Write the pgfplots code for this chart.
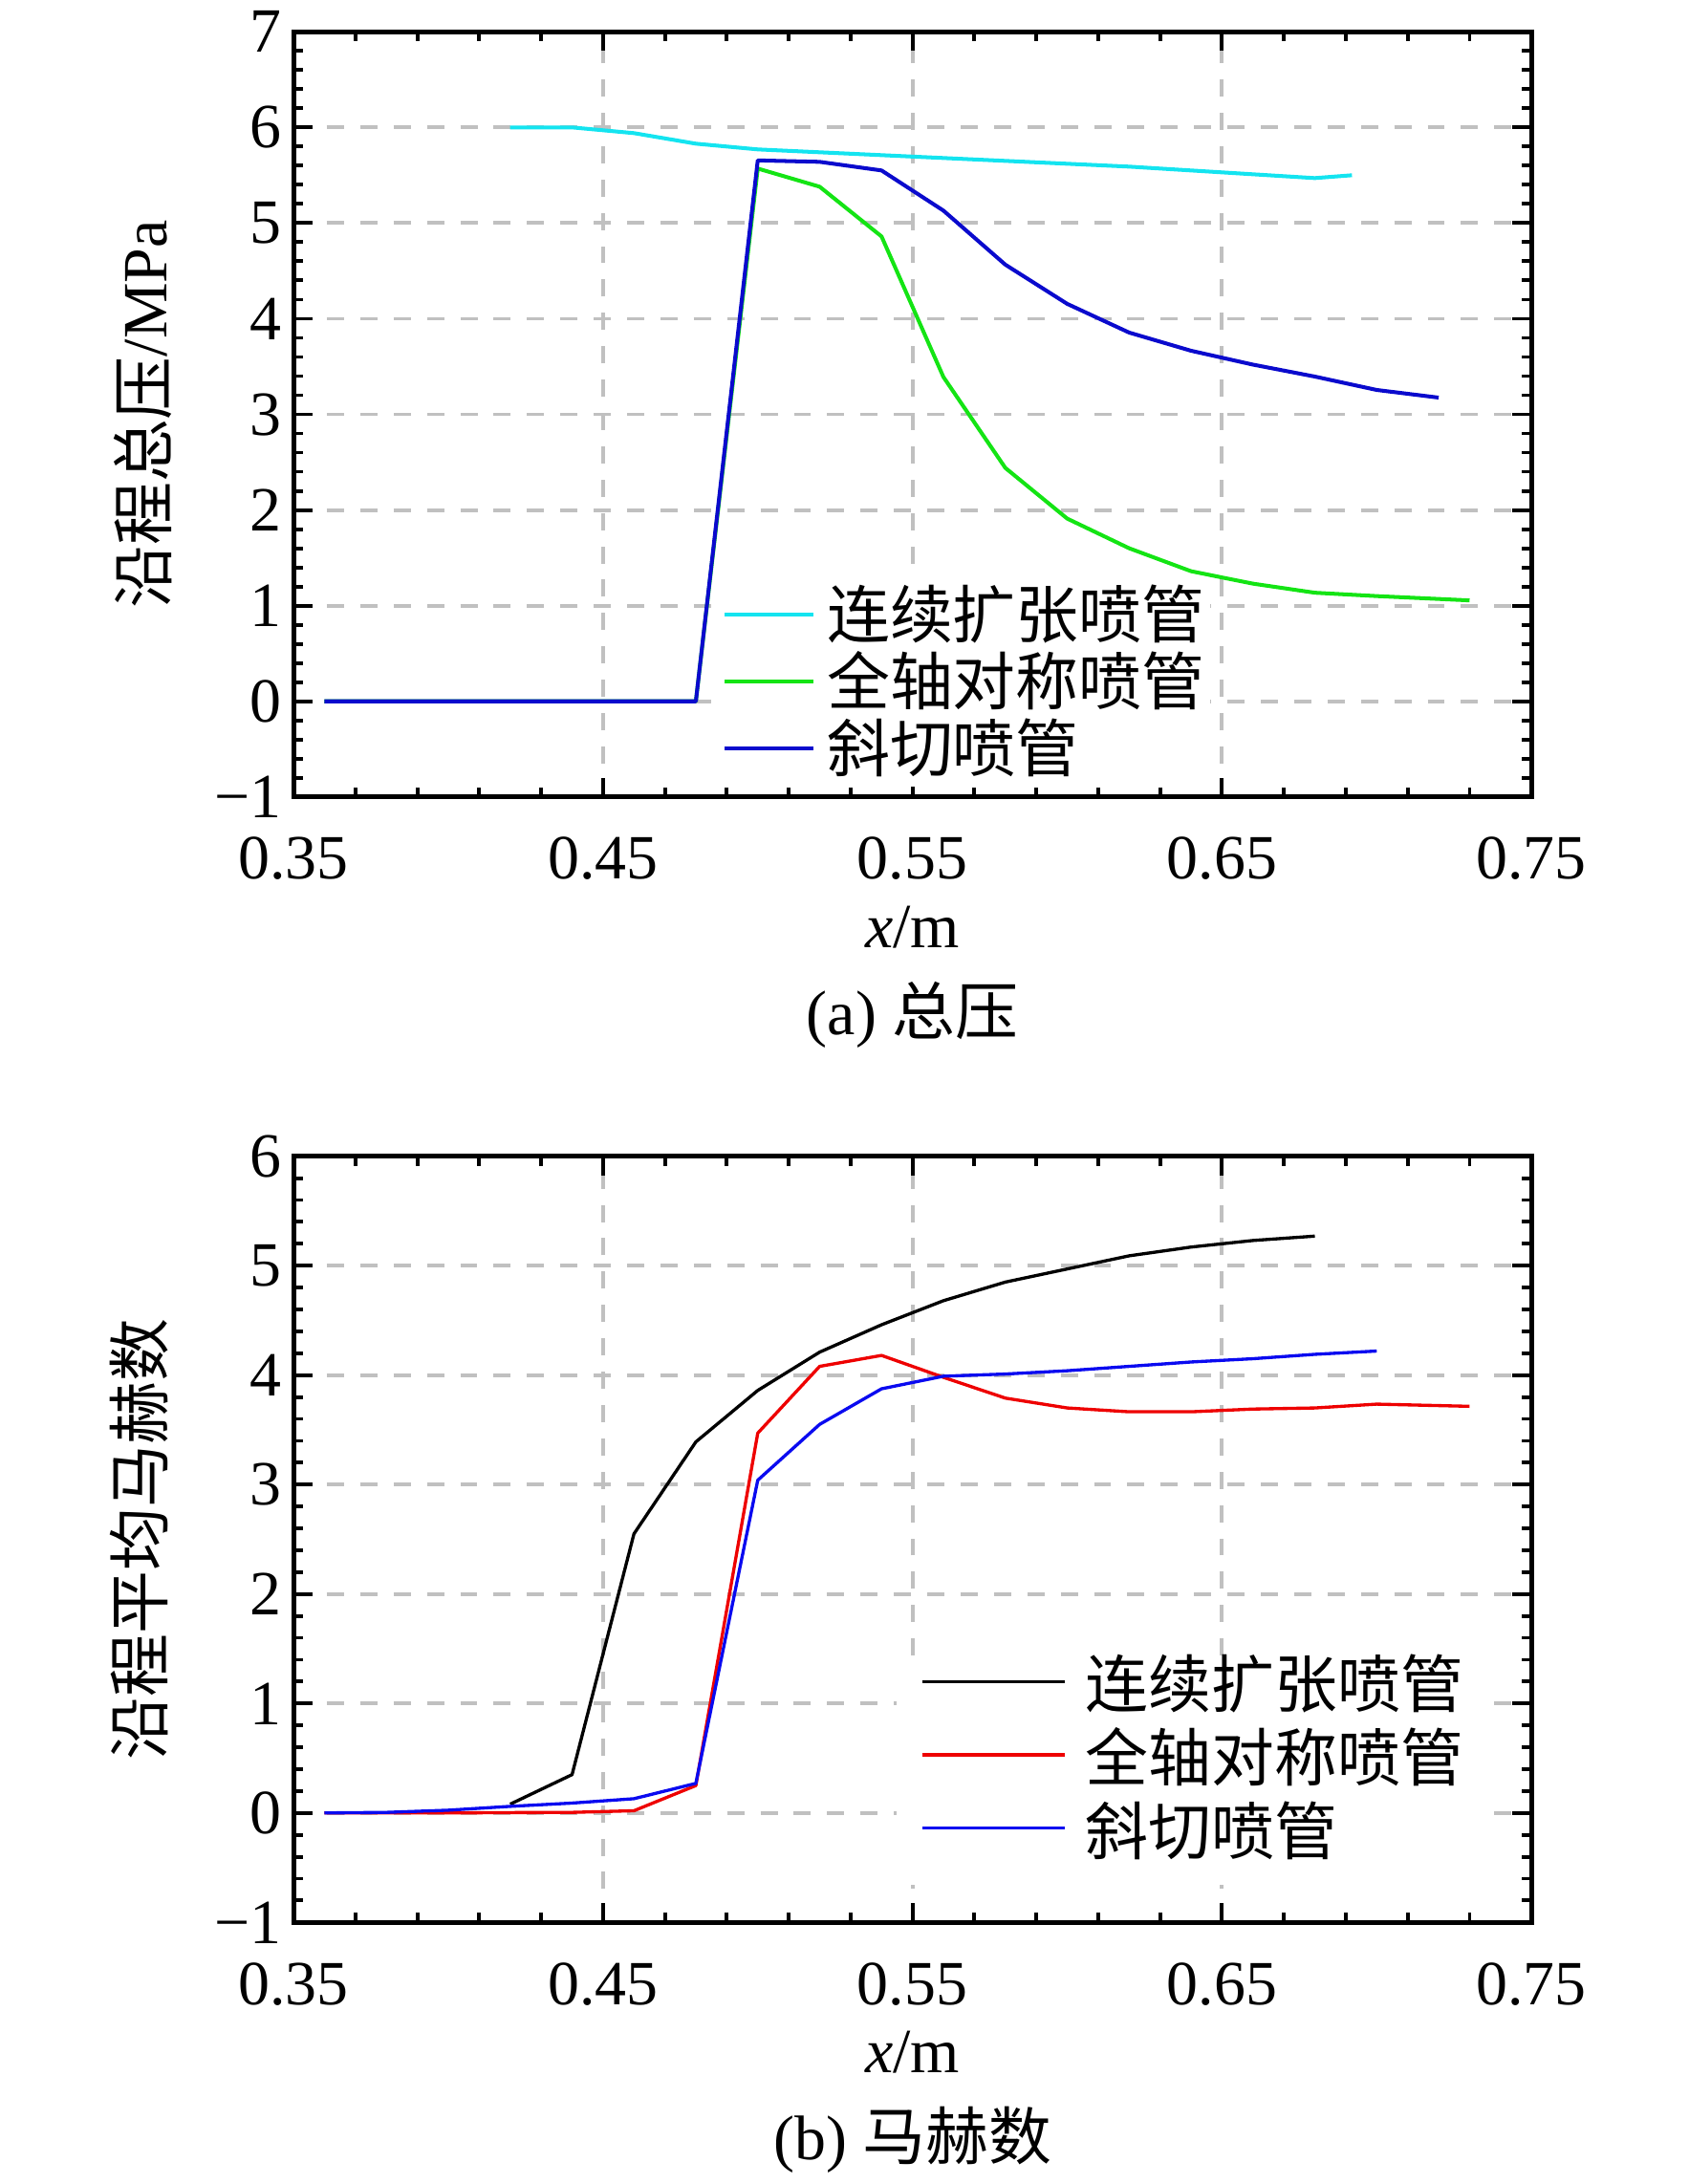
\documentclass[border=0pt]{standalone}
\usepackage{fontspec}
\setmainfont{Liberation Serif}
\newfontfamily\cjk{Noto Sans CJK SC}
\usepackage{pgfplots}
\pgfplotsset{compat=1.18}
\definecolor{ccyan}{RGB}{20,228,240}
\definecolor{cgreen}{RGB}{20,228,20}
\definecolor{cblueA}{RGB}{10,10,205}
\definecolor{cblueB}{RGB}{10,10,240}
\definecolor{cred}{RGB}{238,0,0}
\definecolor{cgrid}{RGB}{192,192,192}

\pgfplotstableread{
x y
0.42 6.00
0.44 6.00
0.46 5.94
0.48 5.83
0.50 5.77
0.52 5.74
0.54 5.71
0.56 5.68
0.58 5.65
0.60 5.62
0.62 5.59
0.64 5.55
0.66 5.51
0.68 5.47
0.692 5.50
}\cyanA
\pgfplotstableread{
x y
0.36 0
0.38 0
0.40 0
0.42 0
0.44 0
0.46 0
0.48 0
0.50 5.57
0.52 5.38
0.54 4.86
0.56 3.39
0.58 2.44
0.60 1.91
0.62 1.60
0.64 1.36
0.66 1.23
0.68 1.135
0.70 1.10
0.73 1.055
}\greenA
\pgfplotstableread{
x y
0.36 0
0.38 0
0.40 0
0.42 0
0.44 0
0.46 0
0.48 0
0.50 5.655
0.52 5.64
0.54 5.55
0.56 5.13
0.58 4.565
0.60 4.155
0.62 3.855
0.64 3.665
0.66 3.52
0.68 3.395
0.70 3.255
0.72 3.175
}\blueA
\pgfplotstableread{
x y
0.42 0.08
0.44 0.35
0.46 2.55
0.48 3.39
0.50 3.86
0.52 4.21
0.54 4.46
0.56 4.68
0.58 4.85
0.60 4.97
0.62 5.09
0.64 5.17
0.66 5.23
0.68 5.27
}\blackB
\pgfplotstableread{
x y
0.36 0
0.38 0
0.40 0
0.42 0.003
0.44 0.005
0.46 0.02
0.48 0.25
0.50 3.47
0.52 4.08
0.54 4.18
0.56 3.98
0.58 3.79
0.60 3.70
0.62 3.665
0.64 3.665
0.66 3.69
0.68 3.70
0.70 3.735
0.73 3.715
}\redB
\pgfplotstableread{
x y
0.36 0
0.38 0.005
0.40 0.025
0.42 0.06
0.44 0.09
0.46 0.13
0.48 0.27
0.50 3.04
0.52 3.55
0.54 3.875
0.56 3.99
0.58 4.01
0.60 4.04
0.62 4.08
0.64 4.12
0.66 4.15
0.68 4.19
0.70 4.22
}\blueB

\pgfplotsset{
  mystyle/.style={
    scale only axis, width=12.99cm,
    xmin=0.35, xmax=0.75,
    xtick={0.35,0.45,0.55,0.65,0.75},
    xticklabels={0.35,0.45,0.55,0.65,0.75},
    minor x tick num=4, minor y tick num=4,
    tick align=inside, tick pos=both,
    major tick length=0.2cm, minor tick length=0.1cm,
    every tick/.style={black, line width=1.1pt},
    axis line style={line width=1.4pt},
    grid=major,
    major grid style={dash pattern=on 0.18cm off 0.17cm, line width=1.1pt, color=cgrid},
    font=\fontsize{18.8}{22}\selectfont,
    xticklabel style={yshift=-0.30cm},
    xlabel={\textit{x}/m},
    xlabel style={at={(axis description cs:0.5,-0.17)}, anchor=center},
    legend cell align=left,
    clip=true,
  }
}

\begin{document}
\begin{tikzpicture}
\path (0,0) rectangle (17.72,22.85);

\begin{axis}[mystyle,
  at={(3.08cm,14.50cm)}, anchor=south west,
  height=8.03cm,
  ymin=-1, ymax=7,
  ytick={-1,0,1,2,3,4,5,6,7},
  yticklabels={−1,0,1,2,3,4,5,6,7},
  ylabel={{\cjk 沿程总压}/MPa},
  ylabel style={at={(axis description cs:-0.122,0.5)}, anchor=center},
  legend image code/.code={\path[draw=none] (0cm,-0.01cm) -- (0.93cm,-0.01cm); \draw[#1] (0cm,0.01cm) -- (0.93cm,0.01cm);},
  legend style={draw=none, fill=white, inner xsep=0.06cm, inner ysep=0.03cm,
    at={(axis description cs:0.3418,0.2858)}, anchor=north west,
    nodes={inner sep=0pt, text height=0.585cm, text depth=0.12cm, font=\fontsize{18.8}{22}\selectfont\cjk},
    column sep=0.12cm, row sep=0pt},
]
\addplot[ccyan, line width=1.15pt, line join=round] table[x=x,y=y] {\cyanA};
\addlegendentry{连续扩张喷管}
\addplot[cgreen, line width=1.15pt, line join=round] table[x=x,y=y] {\greenA};
\addlegendentry{全轴对称喷管}
\addplot[cblueA, line width=1.15pt, line join=round] table[x=x,y=y] {\blueA};
\addlegendentry{斜切喷管}
\end{axis}
\node[font=\fontsize{18.8}{22}\selectfont] at (9.575,12.21) {(a) {\cjk 总压}};

\begin{axis}[mystyle,
  at={(3.08cm,2.69cm)}, anchor=south west,
  height=8.04cm,
  ymin=-1, ymax=6,
  ytick={-1,0,1,2,3,4,5,6},
  yticklabels={−1,0,1,2,3,4,5,6},
  ylabel={\cjk 沿程平均马赫数},
  ylabel style={at={(axis description cs:-0.1247,0.5)}, anchor=center},
  legend image code/.code={\path[draw=none] (0cm,0cm) -- (1.5cm,0cm); \draw[#1] (0cm,0.16cm) -- (1.5cm,0.16cm);},
  legend style={draw=none, fill=white, inner xsep=0.25cm, inner ysep=0.05cm,
    at={(axis description cs:0.4866,0.3495)}, anchor=north west,
    nodes={inner sep=0pt, text height=0.5cm, text depth=0.27cm, font=\fontsize{18.8}{22}\selectfont\cjk},
    column sep=0.2cm, row sep=0pt},
]
\addplot[black, line width=0.95pt, line join=round] table[x=x,y=y] {\blackB};
\addlegendentry{连续扩张喷管}
\addplot[cred, line width=0.95pt, line join=round] table[x=x,y=y] {\redB};
\addlegendentry{全轴对称喷管}
\addplot[cblueB, line width=0.95pt, line join=round] table[x=x,y=y] {\blueB};
\addlegendentry{斜切喷管}
\end{axis}
\node[font=\fontsize{18.8}{22}\selectfont] at (9.575,0.41) {(b) {\cjk 马赫数}};
\end{tikzpicture}
\end{document}
